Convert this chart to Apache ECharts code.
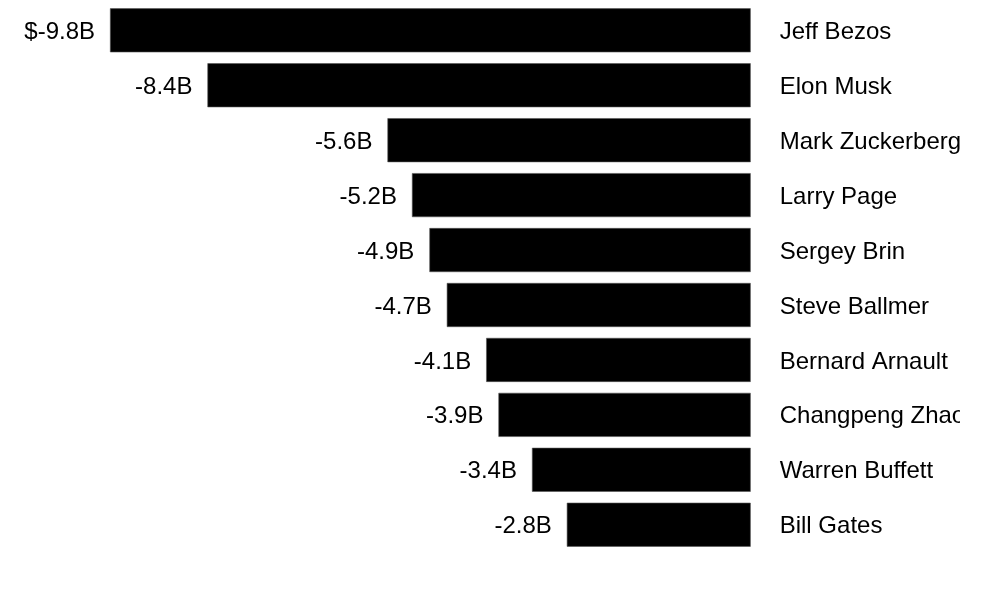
<!DOCTYPE html>
<html>
<head>
<meta charset="utf-8">
<script src="https://cdn.jsdelivr.net/npm/echarts@6/dist/echarts.min.js"></script>
<style>
html,body{margin:0;padding:0;background:#fff;}
#c{width:960px;height:608px;}
</style>
</head>
<body>
<div id="c"></div>
<script>
var names = ["Jeff Bezos","Elon Musk","Mark Zuckerberg","Larry Page","Sergey Brin","Steve Ballmer","Bernard Arnault","Changpeng Zhao","Warren Buffett","Bill Gates"];
var values = [-9.93,-8.42,-5.63,-5.25,-4.98,-4.71,-4.10,-3.91,-3.39,-2.85];
var valueLabels = ["$-9.8B","-8.4B","-5.6B","-5.2B","-4.9B","-4.7B","-4.1B","-3.9B","-3.4B","-2.8B"];

var chart = echarts.init(document.getElementById('c'), null, {renderer:'canvas'});
var font = '"Liberation Sans", Arial, sans-serif';
chart.setOption({
  animation:false,
  backgroundColor:'#fff',
  grid:{left:110, right:209.3, top:2.85, bottom:55.8, containLabel:false, outerBoundsMode:'none'},
  xAxis:{type:'value', min:'dataMin', max:0, show:false},
  yAxis:{type:'category', data:names, inverse:true, position:'right',
    axisLine:{show:false}, axisTick:{show:false}, splitLine:{show:false},
    axisLabel:{margin:29, align:'left', color:'#000', fontSize:24, fontFamily:font,
      formatter:function(v){return '{a|' + v + '}';},
      rich:{a:{fontSize:24, fontFamily:font, color:'#000', padding:[4,0,0,0]}}}},
  series:[{type:'bar', data:values, barWidth:44,
    itemStyle:{color:'#000', borderColor:'#555', borderWidth:0.6},
    label:{show:true, position:'left', distance:15, offset:[0,2], color:'#000', fontSize:24, fontFamily:font,
      formatter:function(p){return valueLabels[p.dataIndex];}}
  }]
});
</script>
</body>
</html>
